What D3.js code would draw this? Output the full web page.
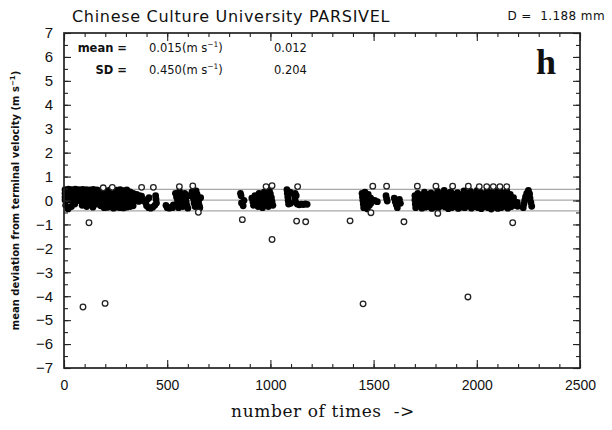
<!DOCTYPE html>
<html>
<head>
<meta charset="utf-8">
<script src="https://cdn.jsdelivr.net/npm/d3@7"></script>
<style>
  html, body { margin: 0; padding: 0; background: #fff; }
  svg { display: block; }
  text { fill: #111; }
</style>
</head>
<body>
<svg id="chart" width="612" height="430"></svg>
<script>
// Axis ranges and tick values
const timeDomain = [0, 2500];
const devDomain = [-7, 7];
const timeMajorTicks = [0, 500, 1000, 1500, 2000, 2500];
const timeMinorTicks = d3.range(0, 2501, 100);
const devMajorTicks = d3.range(-7, 8, 1);
const devMinorTicks = d3.range(-7, 7.01, 0.5);

// Summary statistics shown in the header
const statLabels = ["mean =", "SD ="];
const statValues = ["0.015", "0.450"];
const statSecond = ["0.012", "0.204"];
const meanDev = 0.015;
const sdDev = 0.450;

// Deviations within one SD band (filled markers): [time index, deviation m/s]
const bandDrops = [
  [5,0.45],[5,0.3],[5,0.15],[5,0.02],[8,-0.2],
  [22,0.47],[22,0.32],[22,0.18],[22,0.04],[20,-0.35],
  [38,0.45],[38,0.3],[38,0.15],[38,0.0],[36,-0.25],
  [55,0.47],[55,0.33],[55,0.18],[55,0.05],[52,-0.15],
  [72,0.45],[72,0.3],[72,0.15],[72,0.0],
  [90,0.46],[90,0.32],[90,0.18],[90,-0.05],[88,-0.2],
  [108,0.45],[108,0.3],[108,0.12],[108,-0.02],[110,-0.25],
  [125,0.44],[125,0.28],[125,0.14],[125,-0.1],
  [142,0.46],[142,0.3],[142,0.15],[142,0.0],[140,-0.28],
  [160,0.44],[160,0.3],[160,0.12],[160,-0.15],
  [178,0.4],[178,0.22],[178,0.05],[178,-0.22],
  [192,0.42],[192,0.26],[192,0.12],[192,-0.02],[192,-0.18],[194,-0.3],
  [208,0.4],[208,0.28],[208,0.13],[208,0.0],[208,-0.15],[208,-0.29],
  [224,0.44],[224,0.3],[224,0.15],[224,0.02],[224,-0.12],[224,-0.27],
  [240,0.38],[240,0.25],[240,0.1],[240,-0.04],[240,-0.2],[240,-0.32],
  [256,0.43],[256,0.29],[256,0.14],[256,0.0],[256,-0.15],[256,-0.28],
  [272,0.45],[272,0.3],[272,0.16],[272,0.02],[272,-0.13],[272,-0.3],
  [288,0.41],[288,0.27],[288,0.12],[288,-0.03],[288,-0.18],[288,-0.31],
  [304,0.44],[304,0.29],[304,0.14],[304,0.0],[304,-0.16],[304,-0.28],
  [320,0.36],[320,0.2],[320,0.06],[320,-0.1],[320,-0.25],
  [335,0.3],[335,0.12],[335,-0.05],[335,-0.22],
  [352,0.26],[358,0.12],[366,0.2],[372,0.05],[380,0.0],[362,-0.04],[376,0.18],
  [395,-0.08],[400,-0.22],[410,-0.3],[420,-0.32],[430,-0.28],[440,-0.2],[448,-0.1],
  [446,0.06],[444,0.2],[412,0.12],[405,0.05],
  [494,-0.2],[500,-0.3],[510,-0.32],[520,-0.28],[530,-0.18],[526,-0.3],
  [540,0.3],[545,0.15],[550,0.02],[548,-0.15],[555,-0.3],[560,0.38],[565,0.22],
  [570,0.08],[572,-0.1],[575,-0.25],[585,0.3],[590,0.12],[592,-0.05],[595,-0.2],
  [600,-0.32],[605,0.2],[620,0.36],[625,0.2],[628,0.05],[630,-0.1],[635,-0.25],
  [640,0.4],[645,0.25],[650,0.1],[652,-0.05],[655,-0.2],[658,-0.3],[662,0.12],
  [855,0.3],[858,0.2],[860,-0.1],[868,-0.22],[872,0.0],
  [910,0.1],[915,-0.05],[918,-0.2],[925,0.2],[930,0.05],[935,-0.1],[940,-0.25],
  [945,0.3],[950,0.15],[955,0.0],[960,-0.15],[962,-0.3],[970,0.35],[975,0.2],
  [980,0.05],[985,-0.1],[990,-0.25],[995,0.42],[1000,0.28],[1005,0.12],[1008,-0.05],[1012,-0.2],
  [1080,0.45],[1082,0.3],[1084,0.15],[1086,0.0],[1088,-0.15],[1095,0.35],[1098,-0.12],
  [1115,0.25],[1118,0.1],[1122,-0.05],
  [1120,0.3],[1125,0.2],[1130,-0.15],[1140,-0.18],[1150,-0.15],[1160,-0.17],[1170,-0.14],[1178,-0.16],
  [1444,0.3],[1446,0.15],[1448,0.0],[1450,-0.15],[1452,-0.3],[1458,0.35],[1460,0.2],
  [1462,0.05],[1464,-0.1],[1466,-0.25],[1470,-0.35],[1474,0.25],[1476,0.1],[1478,-0.05],
  [1480,-0.2],[1486,0.1],[1488,-0.1],[1492,0.0],
  [1505,0.0],[1518,-0.05],[1560,0.2],[1563,0.08],[1566,-0.02],
  [1600,0.1],[1605,-0.05],[1610,-0.18],[1615,-0.3],[1625,0.05],[1630,-0.12],
  [1700,0.2],[1700,0.02],[1702,-0.15],[1704,-0.3],
  [1714,0.3],[1716,0.12],[1716,-0.05],[1718,-0.22],
  [1730,0.18],[1732,0.0],[1732,-0.16],[1734,-0.32],
  [1746,0.35],[1748,0.2],[1748,0.04],[1750,-0.12],[1750,-0.28],
  [1762,0.25],[1764,0.08],[1764,-0.08],[1766,-0.25],
  [1778,0.32],[1780,0.15],[1780,-0.02],[1782,-0.18],[1782,-0.33],
  [1794,0.22],[1796,0.05],[1796,-0.12],[1798,-0.28],
  [1810,0.38],[1812,0.2],[1812,0.02],[1814,-0.15],[1814,-0.3],
  [1826,0.28],[1828,0.1],[1828,-0.06],[1830,-0.22],
  [1842,0.42],[1844,0.25],[1844,0.08],[1846,-0.1],[1846,-0.27],
  [1858,0.3],[1860,0.12],[1860,-0.04],[1862,-0.2],[1862,-0.34],
  [1874,0.36],[1876,0.18],[1876,0.0],[1878,-0.16],[1878,-0.3],
  [1890,0.26],[1892,0.08],[1892,-0.1],[1894,-0.25],
  [1906,0.33],[1908,0.15],[1908,-0.02],[1910,-0.2],[1910,-0.33],
  [1922,0.24],[1924,0.06],[1924,-0.12],[1926,-0.28],
  [1938,0.4],[1940,0.22],[1940,0.04],[1942,-0.14],[1942,-0.3],
  [1954,0.3],[1956,0.12],[1956,-0.05],[1958,-0.22],
  [1970,0.38],[1972,0.2],[1972,0.02],[1974,-0.16],[1974,-0.32],
  [1986,0.26],[1988,0.08],[1988,-0.1],[1990,-0.26],
  [2002,0.42],[2004,0.25],[2004,0.06],[2006,-0.12],[2006,-0.3],
  [2018,0.34],[2020,0.16],[2020,-0.02],[2022,-0.2],[2022,-0.34],
  [2034,0.28],[2036,0.1],[2036,-0.08],[2038,-0.25],
  [2050,0.4],[2052,0.22],[2052,0.04],[2054,-0.14],[2054,-0.3],
  [2066,0.32],[2068,0.14],[2068,-0.04],[2070,-0.22],[2070,-0.36],
  [2082,0.42],[2084,0.24],[2084,0.06],[2086,-0.12],[2086,-0.28],
  [2098,0.36],[2100,0.18],[2100,0.0],[2102,-0.18],[2102,-0.33],
  [2114,0.4],[2116,0.22],[2116,0.04],[2118,-0.14],[2118,-0.3],
  [2130,0.3],[2132,0.12],[2132,-0.06],[2134,-0.24],
  [2146,0.38],[2148,0.2],[2148,0.02],[2150,-0.16],[2150,-0.32],
  [2162,0.26],[2164,0.08],[2164,-0.1],[2166,-0.26],
  [2178,0.12],[2180,-0.04],[2182,-0.2],
  [2196,-0.08],[2198,-0.24],
  [2225,-0.3],[2228,-0.15],[2232,0.0],[2236,0.15],[2242,0.3],[2250,0.42],
  [2256,0.28],[2258,0.1],[2262,-0.08],[2266,-0.24]
];

// Deviations outside the SD band (open markers): [time index, deviation m/s]
const outlierDrops = [
  [121,-0.93],[190,0.53],[234,0.55],[376,0.55],[433,0.55],[559,0.58],[624,0.61],
  [651,-0.49],[864,-0.8],[979,0.58],[1008,0.62],[1008,-1.63],[1132,0.58],
  [1127,-0.86],[1171,-0.89],[1386,-0.85],[1487,-0.51],[1496,0.6],[1563,0.6],
  [1647,-0.89],[1712,0.6],[1802,0.6],[1811,-0.54],[1883,0.6],[1959,0.6],
  [2012,0.58],[2048,0.58],[2080,0.58],[2112,0.58],[2145,0.58],[2174,-0.93],
  [92,-4.45],[199,-4.3],[1449,-4.32],[1957,-4.03]
];

const svg = d3.select("#chart");
const plot = { left: 64, right: 580, top: 33, bottom: 368 };

const x = d3.scaleLinear().domain(timeDomain).range([plot.left, plot.right]);
const y = d3.scaleLinear().domain(devDomain).range([plot.bottom, plot.top]);

// Reference lines: mean and mean ± SD
const refLines = [meanDev + sdDev, meanDev, meanDev - sdDev];
svg.append("g").selectAll("line").data(refLines).join("line")
  .attr("x1", plot.left).attr("x2", plot.right)
  .attr("y1", d => y(d)).attr("y2", d => y(d))
  .attr("stroke", "#a8a8a8").attr("stroke-width", 1.2);

// Filled markers
svg.append("g").selectAll("circle").data(bandDrops).join("circle")
  .attr("cx", d => x(d[0])).attr("cy", d => y(d[1]))
  .attr("r", 3.4).attr("fill", "#000");

// Open markers
svg.append("g").selectAll("circle").data(outlierDrops).join("circle")
  .attr("cx", d => x(d[0])).attr("cy", d => y(d[1]))
  .attr("r", 2.8).attr("fill", "#fff")
  .attr("stroke", "#222").attr("stroke-width", 1.3);

// Axes: inward ticks on all four sides
function styleAxis(g) {
  g.select(".domain").remove();
  g.selectAll(".tick line").attr("stroke", "#222").attr("stroke-width", 1.1);
}
const tickFont = "'Liberation Sans', Arial, sans-serif";

svg.append("g").attr("transform", `translate(0,${plot.bottom})`)
  .call(d3.axisBottom(x).tickValues(timeMinorTicks).tickSize(-4).tickFormat(""))
  .call(styleAxis);
svg.append("g").attr("transform", `translate(0,${plot.bottom})`)
  .call(d3.axisBottom(x).tickValues(timeMajorTicks).tickSize(-8).tickPadding(12).tickFormat(d3.format("d")))
  .call(styleAxis)
  .call(g => g.selectAll("text").attr("font-family", tickFont).attr("font-size", 14).attr("fill", "#111"));
svg.append("g").attr("transform", `translate(0,${plot.top})`)
  .call(d3.axisTop(x).tickValues(timeMinorTicks).tickSize(-4).tickFormat(""))
  .call(styleAxis);
svg.append("g").attr("transform", `translate(0,${plot.top})`)
  .call(d3.axisTop(x).tickValues(timeMajorTicks).tickSize(-8).tickFormat(""))
  .call(styleAxis);

svg.append("g").attr("transform", `translate(${plot.left},0)`)
  .call(d3.axisLeft(y).tickValues(devMinorTicks).tickSize(-4).tickFormat(""))
  .call(styleAxis);
svg.append("g").attr("transform", `translate(${plot.left},0)`)
  .call(d3.axisLeft(y).tickValues(devMajorTicks).tickSize(-7).tickPadding(11)
    .tickFormat(d => d < 0 ? "\u2212" + Math.abs(d) : String(d)))
  .call(styleAxis)
  .call(g => g.selectAll("text").attr("font-family", tickFont).attr("font-size", 15).attr("fill", "#111"));
svg.append("g").attr("transform", `translate(${plot.right},0)`)
  .call(d3.axisRight(y).tickValues(devMinorTicks).tickSize(-4).tickFormat(""))
  .call(styleAxis);
svg.append("g").attr("transform", `translate(${plot.right},0)`)
  .call(d3.axisRight(y).tickValues(devMajorTicks).tickSize(-7).tickFormat(""))
  .call(styleAxis);

// Frame
svg.append("rect")
  .attr("x", plot.left).attr("y", plot.top)
  .attr("width", plot.right - plot.left).attr("height", plot.bottom - plot.top)
  .attr("fill", "none").attr("stroke", "#222").attr("stroke-width", 1.7);

// Title and diameter label
svg.append("text").attr("x", 72).attr("y", 22)
  .attr("font-family", "'DejaVu Sans', sans-serif").attr("font-size", 16)
  .attr("letter-spacing", 0.7)
  .text("Chinese Culture University PARSIVEL");
svg.append("text").attr("x", 605).attr("y", 20).attr("text-anchor", "end")
  .attr("font-family", "'DejaVu Sans', sans-serif").attr("font-size", 12)
  .attr("letter-spacing", 0.4)
  .attr("xml:space", "preserve")
  .text("D =  1.188 mm");

// Statistics block
const statFont = "'DejaVu Sans', sans-serif";
const statRows = svg.append("g").attr("font-family", statFont).attr("font-size", 11.5);
statLabels.forEach((lab, i) => {
  const yy = 52 + i * 22;
  statRows.append("text").attr("x", 127).attr("y", yy).attr("text-anchor", "end")
    .attr("font-weight", "bold").text(lab);
  const t = statRows.append("text").attr("x", 149).attr("y", yy);
  t.append("tspan").text(statValues[i] + "(m s");
  t.append("tspan").attr("dy", -5).attr("font-size", 7.5).text("\u22121");
  t.append("tspan").attr("dy", 5).text(")");
  statRows.append("text").attr("x", 274).attr("y", yy).text(statSecond[i]);
});

// Panel letter
svg.append("text").attr("x", 546).attr("y", 74).attr("text-anchor", "middle")
  .attr("font-family", "'Liberation Serif', 'Times New Roman', serif")
  .attr("font-weight", "bold").attr("font-size", 36).text("h");

// Axis titles
const yTitle = svg.append("text")
  .attr("transform", `translate(19,${(plot.top + plot.bottom) / 2}) rotate(-90)`)
  .attr("text-anchor", "middle")
  .attr("font-family", "'DejaVu Sans', sans-serif").attr("font-size", 10).attr("font-weight", "bold");
yTitle.append("tspan").text("mean deviation from terminal velocity (m s");
yTitle.append("tspan").attr("dy", -4).attr("font-size", 7).text("\u22121");
yTitle.append("tspan").attr("dy", 4).text(")");

svg.append("text").attr("x", 323).attr("y", 417).attr("text-anchor", "middle")
  .attr("font-family", "'DejaVu Serif', serif").attr("font-size", 17)
  .attr("letter-spacing", 0.6)
  .attr("xml:space", "preserve")
  .text("number of times  ->");
</script>
</body>
</html>
